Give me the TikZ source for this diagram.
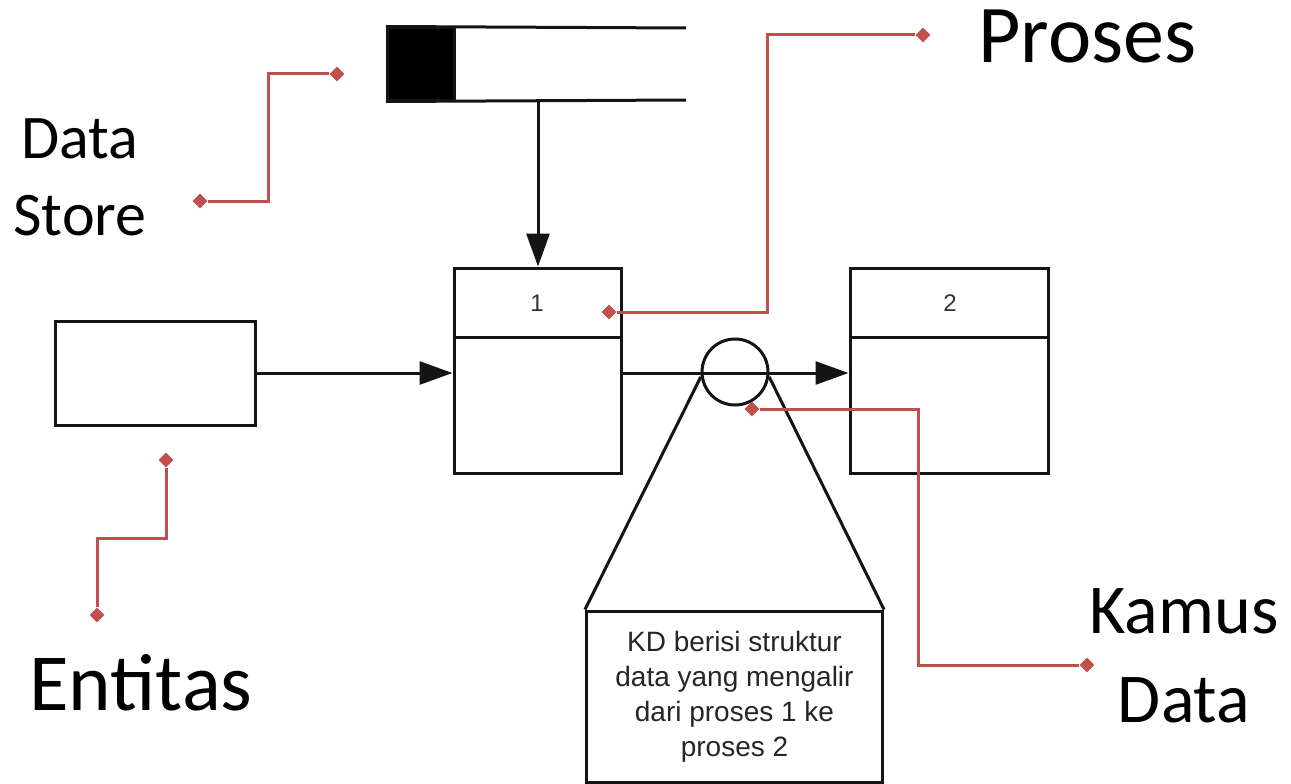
\documentclass[tikz,border=0pt]{standalone}
\usepackage{fontspec}
\setmainfont{Carlito}
\newfontfamily\helv{Liberation Sans}
\usetikzlibrary{arrows.meta,shapes.geometric,calc}
\definecolor{callred}{RGB}{192,80,77}
\definecolor{diagline}{RGB}{20,20,20}
\begin{document}
\begin{tikzpicture}[x=1pt,y=-1pt,
  box/.style={draw=diagline,line width=3pt,rectangle,inner sep=0pt,fill=white},
  flow/.style={draw=diagline,line width=3pt,-{Triangle[length=33pt,width=23pt]}},
  plain/.style={draw=diagline,line width=3pt},
  callout/.style={draw=callred,line width=3pt},
  dm/.style={diamond,fill=callred,inner sep=0pt,minimum size=15pt},
  bigtxt/.style={anchor=base,inner sep=0pt},
  numtxt/.style={font=\helv\fontsize{24}{28}\selectfont,text=black!80,inner sep=0pt}
]
\useasboundingbox (0,0) rectangle (1291,784);
\fill[white] (0,0) rectangle (1291,784);

% data store
\node[box,fill=black,minimum width=67pt,minimum height=72pt] (ds) at (421,64) {};
\coordinate (dsTopEnd) at (686,28);
\coordinate (dsBotEnd) at (686,100);
\coordinate (dsOut) at (538,100);
\draw[plain] (ds.north west) -- (dsTopEnd);
\draw[plain] (ds.south west) -- (dsBotEnd);

% processes
\node[box,minimum width=167pt,minimum height=205pt] (p1) at (537.5,370.5) {};
\node[box,minimum width=198pt,minimum height=205pt] (p2) at (949,370.5) {};
\draw[plain] ($(p1.north west)+(0,71)$) -- ($(p1.north east)+(0,71)$);
\draw[plain] ($(p2.north west)+(0,71)$) -- ($(p2.north east)+(0,71)$);
\node[numtxt] (n1) at (537,303) {1};
\node[numtxt] (n2) at (950,303) {2};

% entity
\node[box,minimum width=200pt,minimum height=104pt] (ent) at (155,373) {};

% flows
\draw[flow] (dsOut) -- (dsOut |- p1.north);
\draw[flow] (ent.east) -- (ent.east -| p1.west);
\draw[flow] (ent.east -| p1.east) -- (ent.east -| p2.west);

% data dictionary
\node[draw=diagline,line width=3pt,circle,minimum size=66pt,inner sep=0pt] (circ) at (735,372) {};
\node[box,minimum width=296pt,minimum height=171pt,align=center,
      font=\helv\fontsize{28}{35}\selectfont,text=black!85] (kd) at (734.5,696.5)
  {KD berisi struktur\\data yang mengalir\\dari proses 1 ke\\proses 2};
\draw[plain] (circ.188) -- (kd.north west);
\draw[plain] (circ.352) -- (kd.north east);

% labels
\node[bigtxt,font=\fontsize{62}{77}\selectfont] (lData) at (80,158) {Data};
\node[bigtxt,font=\fontsize{62}{77}\selectfont] (lStore) at (80,235) {Store};
\node[bigtxt,font=\fontsize{82}{96}\selectfont] (lProses) at (1087.5,63) {Proses};
\node[bigtxt,font=\fontsize{81}{96}\selectfont] (lEnt) at (141,710) {Entitas};
\node[bigtxt,font=\fontsize{70}{89}\selectfont] (lKamus) at (1184,633) {Kamus};
\node[bigtxt,font=\fontsize{70}{89}\selectfont] (lKData) at (1184,722) {Data};

% callouts
\node[dm] (dsA) at (337,74) {};
\node[dm] (dsB) at (200,201) {};
\coordinate (dsK1) at (268,74);
\coordinate (dsK2) at (268,201);
\draw[callout] (dsA) -- (dsK1) -- (dsK2) -- (dsB);

\node[dm] (prA) at (923,35) {};
\node[dm] (prB) at (609,312) {};
\coordinate (prK1) at (767,35);
\coordinate (prK2) at (767,312);
\draw[callout] (prA) -- (prK1) -- (prK2) -- (prB);

\node[dm] (enA) at (166,460) {};
\node[dm] (enB) at (97,615) {};
\coordinate (enK1) at (166,538);
\coordinate (enK2) at (97,538);
\draw[callout] (enA) -- (enK1) -- (enK2) -- (enB);

\node[dm] (kdA) at (752,409) {};
\node[dm] (kdB) at (1087,665) {};
\coordinate (kdK1) at (918,409);
\coordinate (kdK2) at (918,665);
\draw[callout] (kdA) -- (kdK1) -- (kdK2) -- (kdB);
\end{tikzpicture}
\end{document}
